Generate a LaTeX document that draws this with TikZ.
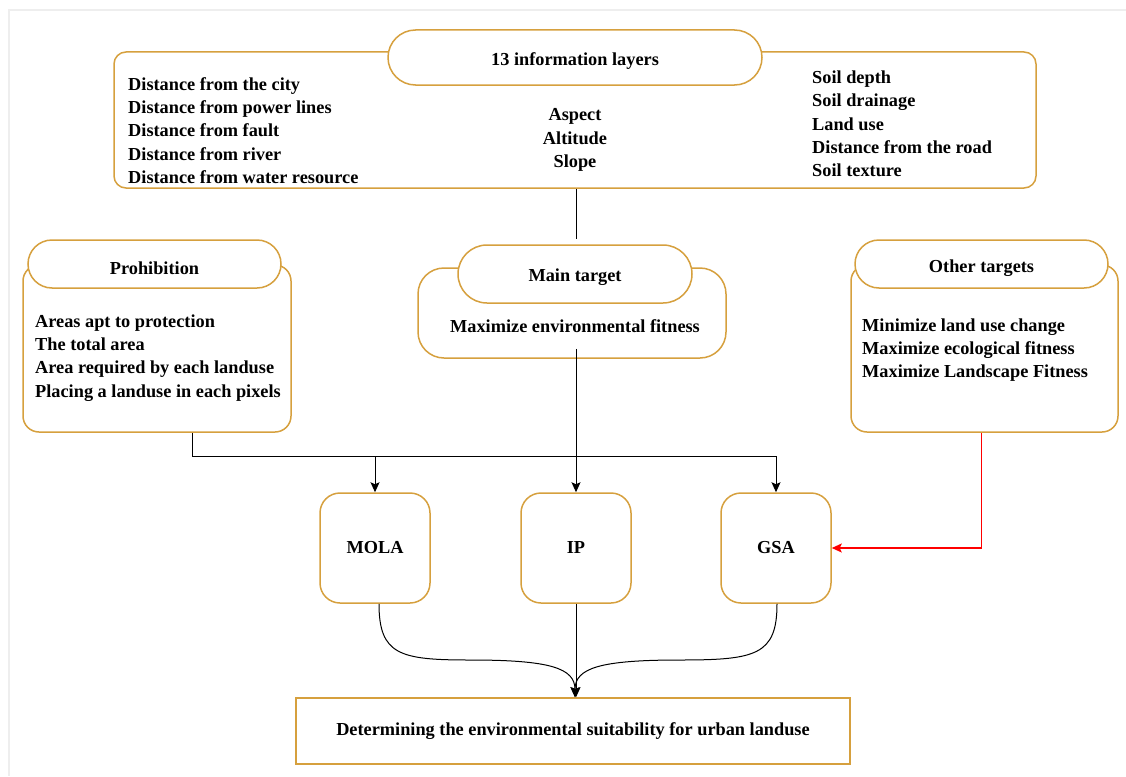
\documentclass[tikz,border=0pt]{standalone}
\usepackage{fontspec}
\setmainfont{Liberation Serif}
\usepackage{tikz}
\usetikzlibrary{arrows.meta,shapes.misc,positioning}
\definecolor{boxgold}{RGB}{214,160,62}
\definecolor{framegray}{RGB}{238,238,238}
\definecolor{linkred}{RGB}{255,0,0}
\tikzset{
  box/.style = {draw=boxgold, line width=1.5pt, fill=white, rounded corners=#1, inner sep=0pt},
  box/.default = 14pt,
  pill/.style = {draw=boxgold, line width=1.5pt, fill=white, rounded rectangle, inner sep=0pt},
  txt/.style = {font=\bfseries\fontsize{18.3}{23.3}\selectfont, align=left, inner sep=0pt},
  link/.style = {line width=1pt, -{Stealth[length=10pt,width=9pt,inset=2pt]}}
}
\begin{document}
\begin{tikzpicture}[x=1pt, y=-1pt]
      \useasboundingbox (0, 0) rectangle (1126, 776);
      \draw [framegray, line width=2pt] (9, 776) -- (9, 10) -- (1126, 10);
      % information layers
      \node [box=12pt, minimum width=922, minimum height=136] (layers) at (575, 120) {};
      \node [pill, minimum width=374, minimum height=55] (layershead) at (575, 57.5) {};
      \node [txt] at (575, 61) {13 information layers};
      \node [txt, anchor=west] (leftcol) at (128, 130.5) {Distance from the city\\Distance from power lines\\Distance from fault\\Distance from river\\Distance from water resource};
      \node [txt, align=center] (midcol) at (575, 140) {Aspect\\Altitude\\Slope};
      \node [txt, anchor=west] (rightcol) at (812, 124) {Soil depth\\Soil drainage\\Land use\\Distance from the road\\Soil texture};
      % targets
      \node [box=16pt, minimum width=268, minimum height=167] (prohib) at (157, 348.5) {};
      \node [pill, minimum width=253, minimum height=48] (prohibhead) at (154.5, 264) {};
      \node [txt] at (154.5, 268) {Prohibition};
      \node [txt, anchor=west] at (35, 358) {Areas apt to protection\\The total area\\Area required by each landuse\\Placing a landuse in each pixels};
      \node [box=26pt, minimum width=308, minimum height=90] (main) at (572, 313) {};
      \node [pill, minimum width=234, minimum height=58] (mainhead) at (575, 274) {};
      \node [txt] at (575, 277) {Main target};
      \node [txt] at (575, 326) {Maximize environmental fitness};
      \node [box=16pt, minimum width=267, minimum height=167] (other) at (984.5, 348.5) {};
      \node [pill, minimum width=253, minimum height=48] (otherhead) at (981.5, 264) {};
      \node [txt] at (981.5, 268) {Other targets};
      \node [txt, anchor=west] at (862, 350) {Minimize land use change\\Maximize ecological fitness\\Maximize Landscape Fitness};
      % methods
      \node [box=20pt, minimum width=110, minimum height=110, txt] (mola) at (375, 548) {MOLA};
      \node [box=20pt, minimum width=110, minimum height=110, txt] (ip) at (576, 548) {IP};
      \node [box=20pt, minimum width=110, minimum height=110, txt] (gsa) at (776, 548) {GSA};
      \node [box=0pt, minimum width=554, minimum height=66, txt] (result) at (573, 731) {Determining the environmental suitability for urban landuse};
      % connectors
      \coordinate (bus) at (576, 456);
      \draw [line width=1pt] (layers.south -| bus) -- ([yshift=5pt]mainhead.north -| bus);
      \draw [line width=1pt] ([xshift=35pt]prohib.south) |- (gsa.north |- bus);
      \draw [link] (bus -| mola.north) -- (mola.north);
      \draw [link] (bus -| gsa.north) -- (gsa.north);
      \draw [link] ([yshift=10pt]main.south -| ip.north) -- (ip.north);
      \draw [link, draw=linkred, line width=1.5pt] ([xshift=-3pt]other.south) |- (gsa.east);
      \draw [link] ([xshift=4pt]mola.south) .. controls (379, 655) and (400, 660) .. (470, 660)
            .. controls (550, 660) and (575, 668) .. ([xshift=2pt]result.north);
      \draw [link] ([xshift=1pt]gsa.south) .. controls (777, 655) and (756, 660) .. (680, 660)
            .. controls (600, 660) and (575, 668) .. ([xshift=2pt]result.north);
      \draw [link] (ip.south) -- (ip.south |- result.north);
    \end{tikzpicture}
\end{document}
